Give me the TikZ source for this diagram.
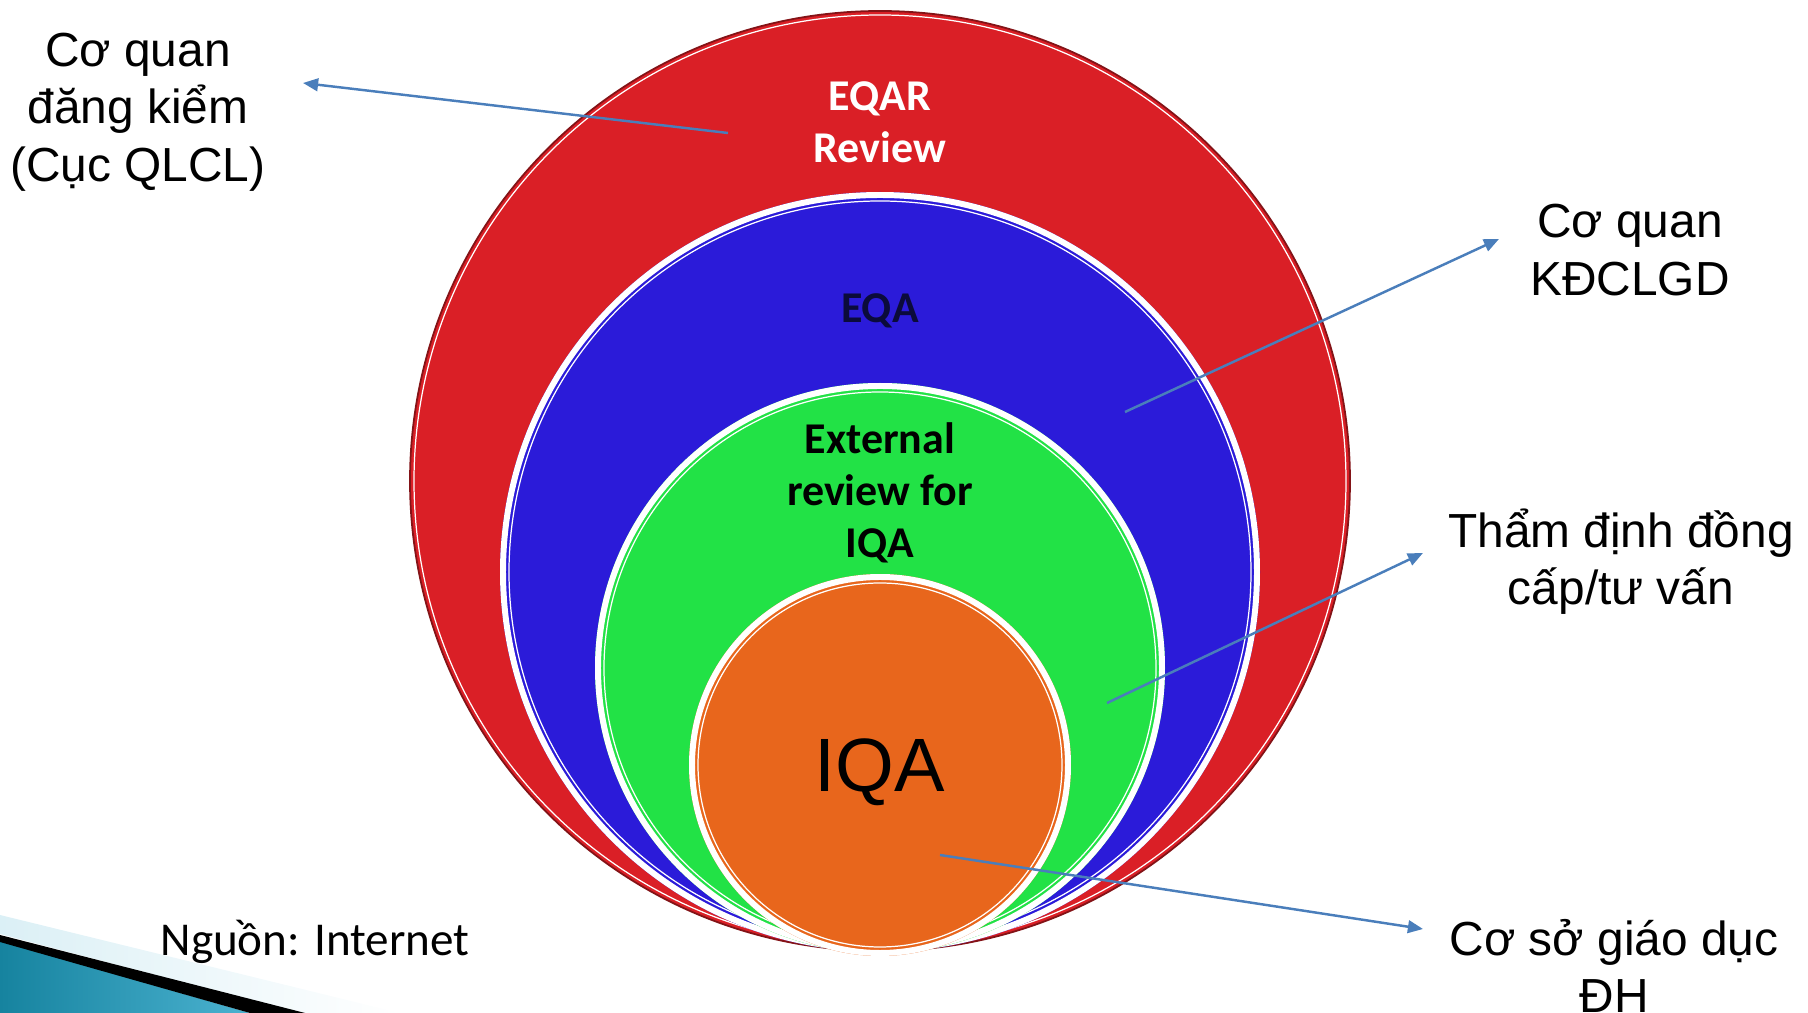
\documentclass[tikz,border=0pt]{standalone}
\usepackage{fontspec}
\setmainfont{Liberation Sans}
\newfontfamily\calibri{Carlito}
\usetikzlibrary{arrows.meta}
\definecolor{ringred}{HTML}{DA1F26}
\definecolor{ringblue}{HTML}{2B1BD9}
\definecolor{ringgreen}{HTML}{22E246}
\definecolor{ringorange}{HTML}{E8661C}
\definecolor{eqanavy}{HTML}{0B0B3B}
\definecolor{arrowblue}{HTML}{4A7EBB}
\definecolor{swooshdark}{HTML}{16839F}
\definecolor{swooshlight}{HTML}{4BB2D0}
\tikzset{
  lbl/.style={inner sep=0pt, align=center, font=\fontsize{13.6}{16.3}\selectfont},
  ringlbl/.style={inner sep=0pt, align=center, font=\calibri\bfseries\fontsize{12.5}{14.7}\selectfont},
  ptr/.style={draw=arrowblue, line width=0.7pt, -{Triangle[length=4.3pt,width=3.6pt]}},
  rim/.style={white, line width=1.7pt},
  seam/.style={white, line width=0.35pt}
}
\begin{document}
\begin{tikzpicture}[x=0.01cm, y=-0.01cm]
  \useasboundingbox (0,0) rectangle (1808,1013);
  \shade[left color=swooshlight!20, right color=white] (0,915) -- (400,1013) -- (300,1013) -- (0,934) -- cycle;
  \shade[left color=swooshdark, right color=swooshlight] (0,941) -- (250,1013) -- (0,1013) -- cycle;
  \fill[black] (0,935) -- (305,1013) -- (250,1013) -- (0,942) -- cycle;

  \coordinate (eqar) at (880,481);
  \coordinate (eqa) at (880,572);
  \coordinate (ext) at (880,668);
  \coordinate (iqa) at (880,765);

  \fill[ringred] (eqar) circle (470);
  \draw[ringred!60!black, line width=0.5pt] (eqar) circle (470);
  \draw[seam] (eqar) circle (466);
  \fill[ringblue] (eqa) circle (380);
  \draw[rim] (eqa) circle (377);
  \draw[seam] (eqa) circle (371);
  \fill[ringgreen] (ext) circle (285);
  \draw[rim] (ext) circle (282);
  \draw[seam] (ext) circle (276);
  \fill[ringorange] (iqa) circle (191);
  \draw[rim] (iqa) circle (188);
  \draw[seam] (iqa) circle (182);

  \node[ringlbl, text=white] (eqartxt) at (880,122) {EQAR\\Review};
  \node[ringlbl, text=eqanavy] (eqatxt) at (880,311) {EQA};
  \node[ringlbl, text=black] (exttxt) at (880,493) {External\\review for\\IQA};
  \node[inner sep=0pt, font=\fontsize{21.5}{25}\selectfont] (iqatxt) at (880,772) {IQA};

  \node[lbl] (qlcl) at (138,112) {Cơ quan\\đăng kiểm\\(Cục QLCL)};
  \node[lbl] (kdcl) at (1630,250) {Cơ quan\\KĐCLGD};
  \node[lbl] (tdinh) at (1621,562) {Thẩm định đồng\\cấp/tư vấn};
  \node[lbl] (csgd) at (1614,966) {Cơ sở giáo dục\\ĐH};
  \node[inner sep=0pt, font=\calibri\fontsize{13.4}{16}\selectfont] (nguon) at (315,942) {Nguồn: Internet};

  \coordinate (qlcl-from) at (728,133);
  \coordinate (qlcl-to) at (303,83);
  \coordinate (kdcl-from) at (1125,412);
  \coordinate (kdcl-to) at (1499,239);
  \coordinate (tdinh-from) at (1107,703);
  \coordinate (tdinh-to) at (1423,553);
  \coordinate (csgd-from) at (940,855);
  \coordinate (csgd-to) at (1423,929);
  \begin{scope}[ptr]
    \draw (qlcl-from) -- (qlcl-to);
    \draw (kdcl-from) -- (kdcl-to);
    \draw (tdinh-from) -- (tdinh-to);
    \draw (csgd-from) -- (csgd-to);
  \end{scope}
\end{tikzpicture}
\end{document}
